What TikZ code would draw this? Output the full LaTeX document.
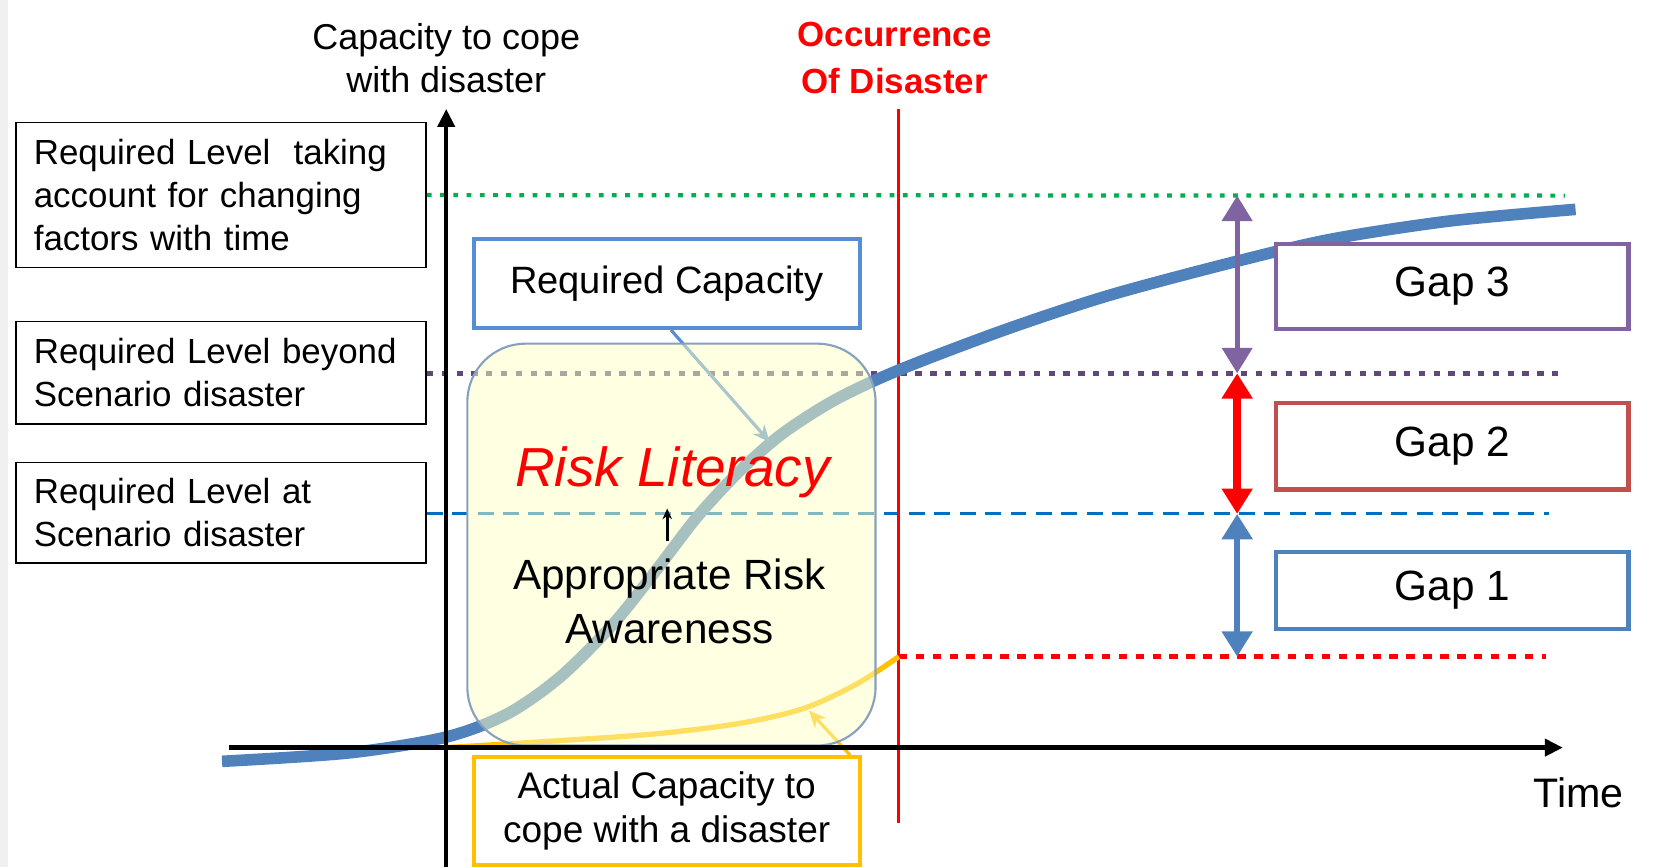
\documentclass[tikz,border=0pt]{standalone}
\usepackage{fontspec}
\setmainfont{Liberation Sans}
\usetikzlibrary{positioning}
\usetikzlibrary{arrows.meta}

\definecolor{curveblue}{RGB}{79,129,189}
\definecolor{boxblue}{RGB}{85,142,213}
\definecolor{gapred}{RGB}{192,80,77}
\definecolor{gappurple}{RGB}{128,100,162}
\definecolor{lvlpurple}{RGB}{96,73,122}
\definecolor{lvlgreen}{RGB}{0,176,80}
\definecolor{lvlblue}{RGB}{0,112,192}
\definecolor{actgold}{RGB}{255,192,0}
\definecolor{litfill}{RGB}{255,255,195}
\definecolor{litedge}{RGB}{135,160,190}

\begin{document}
\begin{tikzpicture}
    [
    x=1pt, y=-1pt,
    lvlbox/.style={draw=black, line width=1.5pt, fill=white, minimum width=388pt,
        text width=354pt, inner xsep=17pt, inner ysep=0pt, align=left,
        font=\fontsize{33}{41}\selectfont},
    capbox/.style={draw, line width=4pt, fill=white, minimum width=365pt,
        inner sep=0pt, align=center, font=\fontsize{35}{41}\selectfont},
    gapbox/.style={draw, line width=4pt, fill=white, minimum width=333pt,
        inner sep=0pt, font=\fontsize{40}{48}\selectfont},
    gaparrow/.style={{Triangle[width=28pt,length=24pt]}-{Triangle[width=28pt,length=24pt]}},
    axis/.style={line width=4pt, -{Triangle[width=16pt,length=17pt]}},
    ]

    \useasboundingbox (0,0) rectangle (1568,820);
    \fill[black!6] (0,0) rectangle (8,820);

    % levels on the left
    \node[lvlbox, minimum height=137pt] (lvl_time) at (209,184.5)
    {Required Level~ taking\\account for changing\\factors with time};
    \node[lvlbox, minimum height=97pt] (lvl_beyond) at (209,352.5)
    {Required Level beyond\\Scenario disaster};
    \node[lvlbox, minimum height=95pt] (lvl_scen) at (209,485)
    {Required Level at\\Scenario disaster};

    \coordinate (g_top) at (1170,185);
    \coordinate (g_mid) at (1170,353);
    \coordinate (g_low) at (1170,486);
    \coordinate (g_base) at (1170,621);
    \coordinate (end_time) at (1480,185);
    \coordinate (end_beyond) at (1480,353);
    \coordinate (end_scen) at (1465,486);
    \coordinate (end_act) at (1462,621);
    \coordinate (dis_top) at (850,103);
    \coordinate (dis_bot) at (850,778);
    \coordinate (dis_act) at (850,621);

    \draw[lvlgreen, line width=4pt, dash pattern=on 4.5pt off 8pt] (lvl_time.east) -- (end_time);
    \draw[lvlpurple, line width=5pt, dash pattern=on 6pt off 8pt] (lvl_beyond.east |- g_mid) -- (end_beyond);
    \draw[lvlblue, line width=3pt, dash pattern=on 15pt off 9pt] (lvl_scen.east |- g_low) -- (end_scen);
    \draw[red, line width=5pt, dash pattern=on 8pt off 8pt] (dis_act) -- (end_act);
    \draw[red, line width=2.5pt] (dis_top) -- (dis_bot);

    % capacity curves
    \draw[curveblue, line width=11pt] plot[smooth] coordinates {
        (210,720) (330,712) (422,697) (480,675) (530,640) (580,590) (620,540)
        (660,488) (700,445) (740,410) (790,378) (850,350) (950,312) (1050,279)
        (1170,247) (1260,226) (1371,209) (1490,198)};
    \draw[actgold, line width=5pt] plot[smooth] coordinates {
        (422,707) (520,701) (620,694) (700,684) (760,670) (810,647) (850,621)};

    \node[capbox, draw=boxblue, minimum height=84pt, font=\fontsize{36}{41}\selectfont] (req_box)
    at (630.5,268) {Required Capacity};
    \node[capbox, draw=actgold, minimum height=102pt] (act_box)
    at (630.5,767) {Actual Capacity to\\cope with a disaster};

    \coordinate (req_tip) at (728,418);
    \coordinate (act_tip) at (765,672);
    \draw[boxblue, line width=3pt, -{Stealth[length=16pt,width=14pt]}] ([xshift=4pt]req_box.south) -- (req_tip);
    \draw[actgold, line width=3pt, -{Stealth[length=16pt,width=14pt]}] (act_box.17) -- (act_tip);

    \node[draw=litedge, line width=2pt, fill=litfill, fill opacity=0.5, rounded corners=55pt,
        minimum width=386pt, minimum height=380pt] (lit_box) at (635,515) {};

    % axes
    \coordinate (y_bot) at (422,820);
    \coordinate (y_top) at (422,103);
    \coordinate (x_left) at (217,707);
    \coordinate (x_tip) at (1478,707);
    \draw[axis] (y_bot) -- (y_top);
    \draw[axis] (x_left) -- (x_tip);

    \node[align=center, font=\fontsize{34}{40}\selectfont] (cap_label) at (422,55)
    {Capacity to cope\\with disaster};
    \node[align=center, text=red, font=\fontsize{33}{44}\selectfont\bfseries] (dis_label) at (846,55)
    {Occurrence\\Of Disaster};
    \node[font=\fontsize{39}{44}\selectfont] (time_label) at (1493,750) {Time};

    % gaps
    \draw[gaparrow, gappurple, line width=5pt] (g_top) -- (g_mid);
    \draw[gaparrow, red, line width=7pt] (g_mid) -- (g_low);
    \draw[gaparrow, curveblue, line width=6pt] (g_low) -- (g_base);

    \node[gapbox, draw=gappurple, minimum height=80pt] (gap_3) at (1373.5,271) {Gap 3};
    \node[gapbox, draw=gapred, minimum height=82pt] (gap_2) at (1373.5,422) {Gap 2};
    \node[gapbox, draw=curveblue, minimum height=73pt] (gap_1) at (1373.5,558.5) {Gap 1};

    % risk literacy
    \node[text=red, font=\fontsize{52}{60}\selectfont\itshape] (risk) at (636,447) {Risk Literacy};
    \node[align=center, font=\fontsize{40}{51}\selectfont] (aware) at (633,569)
    {Appropriate Risk\\Awareness};
    \coordinate (aw_lo) at (631,512);
    \coordinate (aw_hi) at (631,481);
    \draw[line width=2.5pt, -{Stealth[length=10pt,width=9pt]}] (aw_lo) -- (aw_hi);
\end{tikzpicture}
\end{document}
